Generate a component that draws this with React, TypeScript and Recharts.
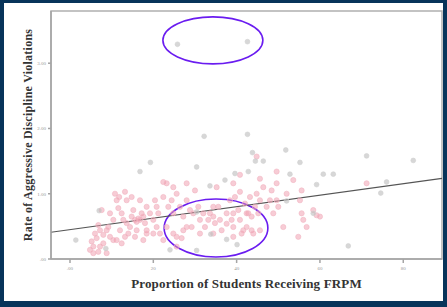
import React from 'react';
import { ScatterChart, Scatter, XAxis, YAxis, ReferenceLine, ReferenceArea } from 'recharts';

// Tick values / labels
const xTicks = [0, 20, 40, 60, 80];
const xTickLabels = ['.00', '20', '40', '60', '80'];
const yTicks = [0, 1, 2, 3];
const yTickLabels = ['.00', '1.00', '2.00', '3.00'];
const xDomain: [number, number] = [-4.56, 89.3];
const yDomain: [number, number] = [0, 3.8];

// Regression fit
const fitIntercept = 0.45;
const fitSlope = 0.0088;

// Highlight ellipses (data-space bounds)
const ellipseX1 = [22.3, 22.6];
const ellipseX2 = [46.3, 47.5];
const ellipseY1 = [2.99, 0.03];
const ellipseY2 = [3.71, 0.92];

// Gray points: [x, y]
const grayPoints: [number, number][] = [
  [25.8, 3.29], [42.6, 3.33], [32.2, 1.88], [42.6, 1.91], [43.8, 1.63], [51.8, 1.67],
  [19.3, 1.48], [16.8, 1.34], [30.4, 1.41], [71.2, 1.58], [82.4, 1.51], [74.6, 1.01],
  [76.0, 1.18], [66.8, 0.2], [1.4, 0.29], [8.6, 0.16], [24.0, 0.14], [30.4, 0.13],
  [37.6, 0.3], [40.1, 0.22], [33.8, 0.38], [33.6, 1.12], [37.2, 1.21], [39.6, 1.31],
  [42.8, 1.34], [44.5, 1.5], [46.4, 1.5], [52.8, 1.3], [60.8, 1.3], [63.2, 1.3],
  [55.2, 1.48], [59.2, 1.14], [52.0, 0.89], [58.4, 0.7], [7.0, 0.74], [30.4, 0.72],
];

// Pink points: [x, y]
const pinkPoints: [number, number][] = [
  [4.8, 0.14], [5.6, 0.19], [5.2, 0.27], [6.4, 0.32], [6.0, 0.39], [7.2, 0.44], [6.8, 0.52],
  [8.0, 0.37], [8.8, 0.44], [9.6, 0.34], [9.2, 0.49], [10.4, 0.6], [10.8, 1.0], [11.2, 0.9],
  [13.2, 1.03], [11.6, 0.78], [12.4, 0.7], [12.8, 0.6], [13.6, 0.55], [12.0, 0.44], [14.0, 0.39],
  [14.8, 0.65], [15.2, 0.75], [15.6, 0.6], [16.0, 0.57], [16.4, 0.62], [16.8, 0.6], [17.2, 0.7],
  [17.6, 0.65], [18.0, 0.55], [18.4, 0.44], [15.6, 0.34], [17.6, 0.29], [11.2, 0.29], [7.2, 0.19],
  [8.8, 0.09], [5.6, 0.09], [13.6, 0.9], [16.8, 0.9], [18.4, 0.8], [14.8, 0.95], [11.8, 0.95],
  [9.6, 0.7], [7.6, 0.75], [19.2, 0.7], [20.0, 0.6], [20.8, 0.49], [21.6, 0.39], [20.4, 0.9],
  [21.2, 0.7], [22.4, 1.18], [23.2, 1.16], [23.6, 0.8], [24.4, 0.9], [24.8, 0.7], [25.6, 1.0],
  [25.6, 0.34], [26.4, 0.8], [27.2, 0.65], [28.0, 0.9], [28.8, 0.75], [29.2, 0.49], [30.0, 1.05],
  [30.8, 0.8], [31.2, 0.6], [32.0, 0.7], [32.4, 0.49], [33.2, 0.6], [34.4, 0.65], [34.8, 0.55],
  [35.6, 0.8], [36.0, 0.6], [36.4, 0.44], [37.6, 0.7], [38.4, 0.9], [38.8, 0.6], [39.2, 0.49],
  [39.6, 0.95], [40.4, 0.75], [40.8, 0.6], [41.2, 0.39], [42.0, 0.85], [42.4, 0.49], [42.8, 0.7],
  [43.2, 0.95], [43.6, 0.44], [44.4, 0.8], [44.8, 1.0], [45.2, 0.7], [45.6, 0.9], [46.4, 1.1],
  [47.2, 0.8], [48.0, 0.9], [48.8, 0.7], [49.6, 1.16], [50.0, 0.8], [51.2, 0.49], [52.0, 1.0],
  [53.6, 1.21], [54.8, 0.34], [55.2, 0.9], [55.6, 1.05], [55.6, 0.7], [56.0, 0.6], [56.8, 0.49],
  [58.4, 0.75], [59.2, 0.67], [60.0, 0.65], [49.6, 0.9], [48.4, 1.05], [45.6, 1.23], [40.8, 1.03],
  [39.2, 1.16], [35.2, 1.1], [28.0, 1.16], [24.8, 1.1], [22.4, 0.95], [20.8, 0.8], [23.2, 0.49],
  [24.8, 0.39], [26.8, 0.32], [28.0, 0.49], [31.2, 0.39], [34.4, 0.39], [39.2, 0.34], [41.6, 0.44],
  [44.0, 0.39], [45.6, 0.44], [34.4, 0.8], [39.2, 0.7], [42.4, 0.7], [43.6, 0.65], [37.6, 0.54],
  [33.6, 0.7], [29.6, 0.7], [27.2, 0.44], [25.6, 0.19], [22.4, 0.29], [20.0, 0.39], [18.4, 0.39],
  [16.0, 0.44], [14.4, 0.49], [13.2, 0.34], [12.4, 0.24], [10.4, 0.29], [8.0, 0.24], [6.8, 0.11],
  [71.2, 1.16], [44.8, 1.57], [40.8, 1.29], [49.6, 1.34],
];

const grayData = grayPoints.map(([x, y]) => ({ x, y }));
const pinkData = pinkPoints.map(([x, y]) => ({ x, y }));

const EllipseShape = (props: any) => {
  const { x, y, width, height } = props;
  return (
    <ellipse
      cx={x + width / 2}
      cy={y + height / 2}
      rx={Math.abs(width) / 2}
      ry={Math.abs(height) / 2}
      fill="none"
      stroke="#6a1cf0"
      strokeWidth={1.6}
    />
  );
};

const XTick = (props: any) => {
  const { x, y, payload } = props;
  const i = xTicks.indexOf(payload.value);
  return (
    <text x={x} y={y + 5} textAnchor="middle" fontSize={5} fill="#999" fontFamily="Liberation Serif">
      {xTickLabels[i]}
    </text>
  );
};

const YTick = (props: any) => {
  const { x, y, payload } = props;
  const i = yTicks.indexOf(payload.value);
  return (
    <text x={x} y={y + 2} textAnchor="end" fontSize={5} fill="#999" fontFamily="Liberation Serif">
      {yTickLabels[i]}
    </text>
  );
};

const yLabelContent = (props: any) => {
  const { viewBox } = props;
  const cx = viewBox.x + 24;
  const cy = viewBox.y + viewBox.height / 2;
  return (
    <text
      x={cx}
      y={cy}
      transform={`rotate(-90, ${cx}, ${cy})`}
      textAnchor="middle"
      dominantBaseline="central"
      fontSize={12}
      letterSpacing={0.25}
      fontWeight="bold"
      fill="#333"
      fontFamily="Liberation Serif"
    >
      Rate of Aggressive Discipline Violations
    </text>
  );
};

const xLabelContent = (props: any) => {
  const { viewBox } = props;
  const cx = viewBox.x + viewBox.width / 2;
  const cy = viewBox.y + 24;
  return (
    <text
      x={cx}
      y={cy}
      textAnchor="middle"
      dominantBaseline="central"
      fontSize={13}
      letterSpacing={0.15}
      fontWeight="bold"
      fill="#333"
      fontFamily="Liberation Serif"
    >
      Proportion of Students Receiving FRPM
    </text>
  );
};

export default function App() {
  const fitStart = { x: xDomain[0], y: fitIntercept + fitSlope * xDomain[0] };
  const fitEnd = { x: xDomain[1], y: fitIntercept + fitSlope * xDomain[1] };
  return (
    <div style={{ position: 'absolute', left: 0, top: 0, width: 447, height: 307, background: '#07345a' }}>
      <div style={{ position: 'absolute', left: 4, top: 3, width: 439, height: 298, background: '#fff' }} />
      <div style={{ position: 'absolute', left: 0, top: 0 }}>
        <ScatterChart width={447} height={307} margin={{ top: 11, right: 5, bottom: 8, left: 4 }}>
          <XAxis
            type="number"
            dataKey="x"
            domain={xDomain}
            ticks={xTicks}
            allowDataOverflow
            height={40}
            stroke="#a5a5a5"
            strokeWidth={1.5}
            tickSize={4}
            tick={<XTick />}
            label={{ content: xLabelContent }}
          />
          <YAxis
            type="number"
            dataKey="y"
            domain={yDomain}
            ticks={yTicks}
            allowDataOverflow
            width={47}
            stroke="#a5a5a5"
            strokeWidth={1.5}
            tickSize={3}
            tick={<YTick />}
            label={{ content: yLabelContent }}
          />
          <ReferenceArea
            x1={xDomain[0]}
            x2={xDomain[1]}
            y1={yDomain[0]}
            y2={yDomain[1]}
            fill="none"
            stroke="#b0b0b0"
            strokeWidth={1.5}
            ifOverflow="visible"
          />
          <Scatter data={pinkData} fill="#ee93a6" fillOpacity={0.55} isAnimationActive={false}
            shape={(p: any) => <circle cx={p.cx} cy={p.cy} r={2.6} fill="#ef9aab" fillOpacity={0.5} stroke="#f2b6c2" strokeWidth={0.6} />} />
          <Scatter data={grayData} fill="#aaa" isAnimationActive={false}
            shape={(p: any) => <circle cx={p.cx} cy={p.cy} r={2.4} fill="#bdbdbd" fillOpacity={0.6} stroke="#d0d0d0" strokeWidth={0.6} />} />
          <ReferenceLine segment={[fitStart, fitEnd]} stroke="#555" strokeWidth={1.1} ifOverflow="visible" />
          {ellipseX1.map((_, i) => (
            <ReferenceArea
              key={i}
              x1={ellipseX1[i]}
              x2={ellipseX2[i]}
              y1={ellipseY1[i]}
              y2={ellipseY2[i]}
              ifOverflow="visible"
              shape={<EllipseShape />}
            />
          ))}
        </ScatterChart>
      </div>
    </div>
  );
}
